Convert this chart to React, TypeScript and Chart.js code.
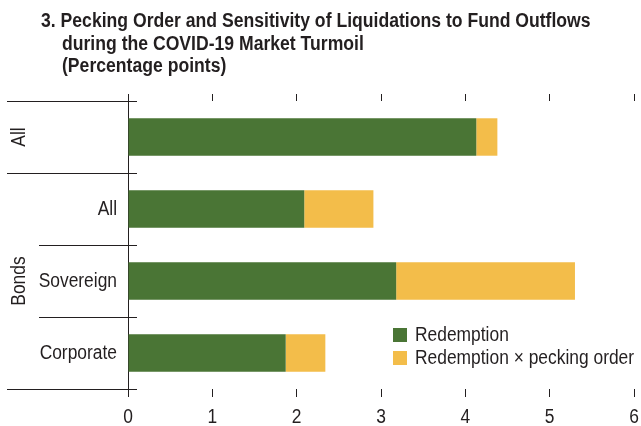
import React, { useEffect, useRef } from "react";
import { Chart, registerables } from "chart.js";

Chart.register(...registerables);

const categories = ["All", "All", "Sovereign", "Corporate"];
const groups = ["All", "Bonds", "Bonds", "Bonds"];
const redemption = [4.13, 2.09, 3.18, 1.87];
const peckingOrder = [0.25, 0.82, 2.12, 0.47];
const seriesLabels = ["Redemption", "Redemption \u00d7 pecking order"];
const titleLines = [
  "3. Pecking Order and Sensitivity of Liquidations to Fund Outflows",
  "during the COVID-19 Market Turmoil",
  "(Percentage points)",
];
const xMin = 0;
const xMax = 6;

const FONT = '"Liberation Sans Narrow", "Arial Narrow", "Liberation Sans", Arial, sans-serif';
const INK = "#231f20";
const GREEN = "#4a7535";
const YELLOW = "#f3bd4a";
const NARROW = 0.87;
const NARROW_BOLD = 0.88;

function narrowText(ctx: any, text: string, x: number, y: number, align: string, sx: number, rot = 0) {
  ctx.save();
  ctx.translate(x, y);
  if (rot) ctx.rotate(rot);
  ctx.scale(sx, 1);
  ctx.textAlign = align;
  ctx.fillText(text, 0, 0);
  ctx.restore();
}

const overlay = {
  id: "overlay",
  afterDraw(chart: any) {
    const ctx = chart.ctx;
    const y = chart.scales.y;
    const x = chart.scales.x;
    const area = chart.chartArea;
    ctx.save();
    // title
    ctx.fillStyle = INK;
    ctx.textBaseline = "alphabetic";
    ctx.font = `bold 20px ${FONT}`;
    narrowText(ctx, titleLines[0], 41, 27, "left", NARROW_BOLD);
    narrowText(ctx, titleLines[1], 62, 50, "left", NARROW_BOLD);
    narrowText(ctx, titleLines[2], 62, 72, "left", NARROW_BOLD);

    // x tick labels
    ctx.font = `20px ${FONT}`;
    ctx.textBaseline = "alphabetic";
    x.ticks.forEach((t: any) => {
      narrowText(ctx, String(t.value), x.getPixelForValue(t.value), 423, "center", NARROW);
    });

    // category labels
    const n = categories.length;
    const half = (y.getPixelForValue(1) - y.getPixelForValue(0)) / 2;
    ctx.textBaseline = "middle";
    for (let i = 0; i < n; i++) {
      const c = y.getPixelForValue(i);
      const singleGroup = groups.filter((g) => g === groups[i]).length === 1;
      if (!singleGroup) narrowText(ctx, categories[i], area.left - 11, c, "right", NARROW);
    }
    // group labels
    const seen: Record<string, boolean> = {};
    for (let i = 0; i < n; i++) {
      const g = groups[i];
      if (seen[g]) continue;
      seen[g] = true;
      let j = i;
      while (j + 1 < n && groups[j + 1] === g) j++;
      const top = y.getPixelForValue(i) - half;
      const bottom = y.getPixelForValue(j) + half;
      narrowText(ctx, g, 19, (top + bottom) / 2, "center", NARROW, -Math.PI / 2);
    }
    // separators
    ctx.strokeStyle = INK;
    ctx.lineWidth = 1;
    for (let i = 0; i <= n; i++) {
      const py = Math.round(i < n ? y.getPixelForValue(i) - half : y.getPixelForValue(n - 1) + half) + 0.5;
      const isGroupEdge = i === 0 || i === n || groups[i] !== groups[i - 1];
      ctx.beginPath();
      ctx.moveTo(isGroupEdge ? 7 : 39, py);
      ctx.lineTo(area.left + 9, py);
      ctx.stroke();
    }

    // legend
    const ds = chart.data.datasets;
    ctx.textBaseline = "middle";
    for (let k = 0; k < ds.length; k++) {
      const ly = 335 + k * 23;
      ctx.fillStyle = ds[k].backgroundColor;
      ctx.fillRect(393, ly - 7, 14, 14);
      ctx.fillStyle = INK;
      narrowText(ctx, ds[k].label, 415, ly, "left", NARROW);
    }
    ctx.restore();
  },
};

export default function App() {
  const ref = useRef<HTMLCanvasElement>(null);
  useEffect(() => {
    const canvas = ref.current;
    if (!canvas) return;
    const chart = new Chart(canvas, {
      type: "bar",
      data: {
        labels: categories,
        datasets: [
          { label: seriesLabels[0], data: redemption, backgroundColor: GREEN, barPercentage: 0.52, categoryPercentage: 1 },
          { label: seriesLabels[1], data: peckingOrder, backgroundColor: YELLOW, barPercentage: 0.52, categoryPercentage: 1 },
        ],
      },
      options: {
        indexAxis: "y",
        animation: false,
        responsive: false,
        maintainAspectRatio: false,
        layout: { padding: { top: 94, left: 128, right: 7, bottom: 0 } },
        plugins: { legend: { display: false }, title: { display: false }, tooltip: { enabled: false } },
        scales: {
          x: {
            type: "linear",
            position: "bottom",
            stacked: true,
            min: xMin,
            max: xMax,
            ticks: { display: false, stepSize: 1 },
            grid: { display: true, drawOnChartArea: false, drawTicks: true, tickLength: 8, color: INK, lineWidth: 1 },
            border: { display: false },
            afterFit: (s: any) => { s.height = 37; },
          },
          x2: {
            type: "linear",
            position: "top",
            min: xMin,
            max: xMax,
            ticks: { display: false, stepSize: 1 },
            grid: { display: true, drawOnChartArea: false, drawTicks: true, tickLength: 7, color: INK, lineWidth: 1 },
            border: { display: false },
            afterFit: (s: any) => { s.height = 7; },
          },
          y: {
            stacked: true,
            ticks: { display: false },
            grid: { display: false, drawTicks: false },
            border: { display: true, color: INK, width: 1 },
            afterFit: (s: any) => { s.width = 0; },
          },
        },
      } as any,
      plugins: [overlay],
    });
    return () => chart.destroy();
  }, []);
  return (
    <div style={{ position: "absolute", left: 0, top: 0, width: 641, height: 426, background: "#fff" }}>
      <canvas ref={ref} width={641} height={426} style={{ width: 641, height: 426, display: "block" }} />
    </div>
  );
}
